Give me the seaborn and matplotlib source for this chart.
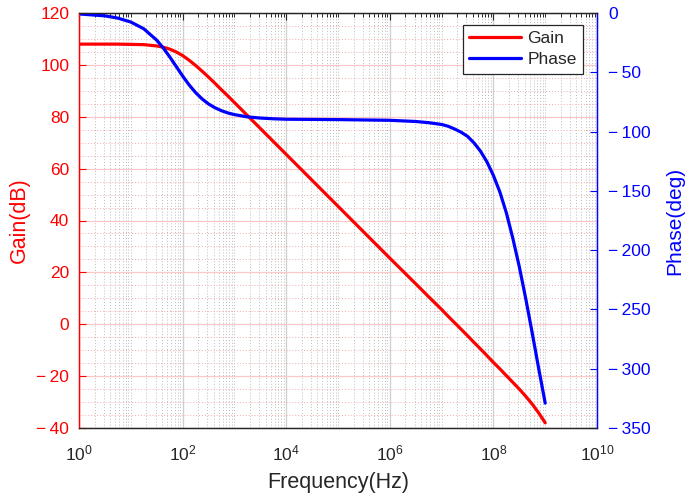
import numpy as np
import pandas as pd
import matplotlib
matplotlib.use("Agg")
import matplotlib.pyplot as plt
from matplotlib.ticker import FixedLocator, FuncFormatter, NullFormatter
import seaborn as sns

# ---- data (frequency given as decade exponent) ----
freq_exp = [0, 0.5, 0.75, 1.0, 1.25, 1.5, 1.625, 1.75, 1.875, 2.0, 2.125, 2.25,
            2.375, 2.5, 2.625, 2.75, 2.875, 3.0, 3.25, 3.5, 3.75, 4.0, 5.0,
            6.0, 6.5, 6.75, 7.0, 7.125, 7.25, 7.375, 7.5, 7.625, 7.75, 7.875,
            8.0, 8.125, 8.25, 8.375, 8.5, 8.625, 8.75, 8.875, 9.0]
gain_db = [108.0, 108.0, 108.0, 107.9, 107.8, 107.3, 106.8, 106.1, 105.0, 103.6,
           101.8, 99.8, 97.6, 95.3, 92.9, 90.4, 88.0, 85.5, 80.5, 75.5, 70.5,
           65.5, 45.5, 25.5, 15.6, 10.6, 5.7, 3.1, 0.6, -1.9, -4.4, -7.0, -9.5,
           -12.1, -14.7, -17.2, -19.8, -22.4, -25.0, -27.8, -30.8, -34.2, -38.0]
phase_deg = [-0.8, -2.4, -4.3, -7.6, -13.3, -22.9, -29.4, -36.9, -45.0, -53.1,
             -60.6, -67.1, -72.4, -76.7, -79.9, -82.4, -84.3, -85.7, -87.6,
             -88.6, -89.2, -89.6, -89.9, -90.5, -91.5, -92.5, -94.0, -95.5,
             -97.8, -100.5, -104.0, -109.5, -116.5, -125.5, -137.0, -151.0,
             -168.5, -190.0, -214.0, -241.0, -270.0, -300.0, -329.0]
gain_ticks = [-40, -20, 0, 20, 40, 60, 80, 100, 120]
phase_ticks = [-350, -300, -250, -200, -150, -100, -50, 0]
x_tick_exp = [0, 2, 4, 6, 8, 10]

df = pd.DataFrame({"Frequency": np.power(10.0, freq_exp),
                   "Gain": gain_db, "Phase": phase_deg})

sns.set_style("white")
plt.rcParams["font.family"] = ["Liberation Sans", "DejaVu Sans"]
plt.rcParams["mathtext.fontset"] = "custom"
plt.rcParams["mathtext.rm"] = "Liberation Sans"
plt.rcParams["mathtext.it"] = "Liberation Sans"

fig = plt.figure(figsize=(6.9, 4.99), dpi=100)
ax = fig.add_axes([79 / 690, 1 - 428 / 499, 518 / 690, 415 / 499])
ax2 = ax.twinx()

RED = "#ff0000"
BLUE = "#0000ff"
DARK = "#262626"

sns.lineplot(data=df, x="Frequency", y="Gain", ax=ax, color=RED, lw=2.3,
             sort=False, label="Gain", legend=False)
sns.lineplot(data=df, x="Frequency", y="Phase", ax=ax2, color=BLUE, lw=2.3,
             sort=False, label="Phase", legend=False)

ax.set_xscale("log")
ax.set_xlim(1, 1e10)
ax.set_ylim(-40, 120)
ax2.set_ylim(-350, 0)

ax.xaxis.set_major_locator(FixedLocator([10.0 ** e for e in x_tick_exp]))
minors = [m * 10 ** k for k in range(0, 10) for m in range(1, 10)
          if not (m == 1 and k % 2 == 0)]
ax.xaxis.set_minor_locator(FixedLocator(minors))
ax.xaxis.set_minor_formatter(NullFormatter())
ax.xaxis.set_major_formatter(FuncFormatter(lambda v, p: r"$10^{%d}$" % round(np.log10(v))))

def minus_fmt(v, p):
    v = int(round(v))
    return ("\u2212\u2009%d" % abs(v)) if v < 0 else "%d" % v

ax.yaxis.set_major_locator(FixedLocator(gain_ticks))
ax.yaxis.set_minor_locator(FixedLocator(list(range(-40, 121, 5))))
ax.yaxis.set_major_formatter(FuncFormatter(minus_fmt))
ax2.yaxis.set_major_locator(FixedLocator(phase_ticks))
ax2.yaxis.set_major_formatter(FuncFormatter(minus_fmt))

# grids
ax.grid(True, which="major", axis="x", color="#cfcfcf", lw=0.9, ls="-")
ax.grid(True, which="minor", axis="x", color="#bdbdbd", lw=0.7, ls=(0, (1, 2)))
ax.grid(True, which="major", axis="y", color="#ffc8c8", lw=0.9, ls="-")
ax.grid(True, which="minor", axis="y", color="#f5aaaa", lw=0.7, ls=(0, (1, 2)))
ax.set_axisbelow(True)

# ticks
ax.tick_params(axis="x", which="major", direction="in", length=5, width=0.8,
               colors=DARK, labelsize=12.5, top=True, pad=11)
ax.tick_params(axis="x", which="minor", direction="in", length=3, width=0.7,
               colors=DARK, top=True)
ax.tick_params(axis="y", which="major", direction="in", length=5, width=0.8,
               colors=RED, labelsize=12.5, pad=7)
ax.tick_params(axis="y", which="minor", length=0)
ax2.tick_params(axis="y", which="major", direction="in", length=5, width=0.8,
                colors=BLUE, labelsize=12.5, pad=8)

for a in (ax, ax2):
    a.spines["top"].set_color(DARK)
    a.spines["bottom"].set_color(DARK)
    a.spines["left"].set_color(RED)
    a.spines["right"].set_color(BLUE)
    for s in a.spines.values():
        s.set_linewidth(0.9)

ax.set_xlabel("Frequency(Hz)", fontsize=15.5, color=DARK, labelpad=6)
ax.set_ylabel("Gain(dB)", fontsize=15.5, color=RED, labelpad=5)
ax2.set_ylabel("Phase(deg)", fontsize=15, color=BLUE, labelpad=10)

h1, l1 = ax.get_legend_handles_labels()
h2, l2 = ax2.get_legend_handles_labels()
leg = ax2.legend(h1 + h2, l1 + l2, loc="upper right",
                 bbox_to_anchor=(0.973, 0.971), borderaxespad=0,
                 fontsize=12.5, frameon=True, fancybox=False, framealpha=1,
                 edgecolor=DARK, handlelength=3.0, handletextpad=0.35,
                 labelspacing=0.35, borderpad=0.35)
leg.get_frame().set_linewidth(0.9)

fig.savefig("out.png", dpi=100)
